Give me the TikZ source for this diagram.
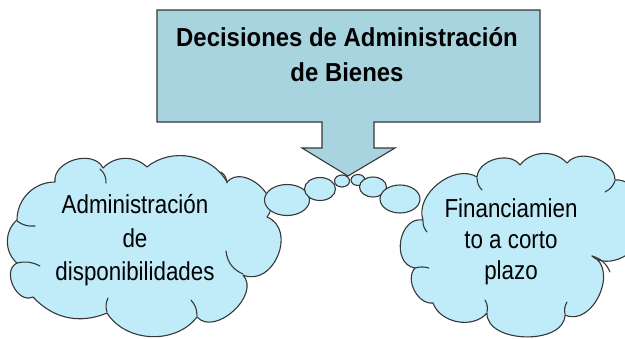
\documentclass[tikz,border=0pt]{standalone}
\usepackage{fontspec}
\setmainfont{Liberation Sans}
\newfontfamily\narrowfont{Liberation Sans}[FakeStretch=0.86]
\newfontfamily\titlefont{Liberation Sans Bold}[FakeStretch=0.92]
\usetikzlibrary{shapes.geometric}
\definecolor{boxfill}{RGB}{168,212,224}
\definecolor{cloudfill}{RGB}{192,236,250}
\definecolor{edge}{RGB}{55,55,55}
\tikzset{
  cloudline/.style={draw=edge, line width=1.1pt, fill=cloudfill, line join=round},
  innerarc/.style={draw=edge, line width=1.1pt, line cap=round},
  bubble/.style={ellipse, draw=edge, line width=1.1pt, fill=cloudfill, inner sep=0pt},
  cloudtext/.style={align=center, font=\narrowfont\fontsize{26}{33.5}\selectfont, text=black, inner sep=0pt},
  righttext/.style={align=center, font=\narrowfont\fontsize{26}{31}\selectfont, text=black, inner sep=0pt},
  titletext/.style={align=center, font=\titlefont\fontsize{26}{35}\selectfont, text=black, inner sep=0pt},
  callout/.style={draw=edge, line width=1.1pt, fill=boxfill, line join=miter}
}
\begin{document}
\begin{tikzpicture}[x=1pt,y=-1pt]
\useasboundingbox (0,0) rectangle (625,338);
% left cloud
\path[cloudline] (17,220) to[bend left=45] (55,182) to[bend left=80, looseness=1.1] (103,168)
  to[bend left=45] (147,167) to[bend left=50] (227,182) to[bend left=90, looseness=1.2] (267,217)
  to[bend left=90, looseness=1.35] (243,275) to[bend left=90, looseness=1.1] (197,317)
  to[bend left=55] (107,313) to[bend left=35] (33,297) to[bend left=90, looseness=1.2] (17,263)
  to[bend left=50] (17,220) -- cycle;
\draw[innerarc] (100,169) to[bend left=25] (106,183);
\draw[innerarc] (227,183) to[bend right=25] (221,172);
\draw[innerarc] (243,274) to[bend left=30] (226,251);
\draw[innerarc] (197,316) to[bend right=20] (191,300);
\draw[innerarc] (107,312) to[bend left=20] (108,298);
\draw[innerarc] (17,263) to[bend left=20] (40,266);
\draw[innerarc] (17,221) to[bend right=20] (35,226);
% right cloud
\path[cloudline] (423,220) to[bend left=70] (477,177) to[bend left=70] (520,165)
  to[bend left=50] (567,163) to[bend left=70] (615,180) to[bend left=70] (640,232)
  to[bend left=70] (592,256) to[bend left=90, looseness=1.2] (565,315)
  to[bend left=90] (487,313) to[bend left=60] (433,303) to[bend left=70] (415,268)
  to[bend left=90, looseness=1.3] (423,220) -- cycle;
\draw[innerarc] (415,268) to[bend left=15] (429,268);
\draw[innerarc] (592,256) to[bend left=25] (610,272);
\draw[innerarc] (565,314) to[bend left=20] (567,302);
\draw[innerarc] (487,312) to[bend right=20] (485,300);
\draw[innerarc] (423,221) to[bend right=20] (427,232);
\draw[innerarc] (477,178) to[bend right=20] (482,190);
\draw[innerarc] (615,181) to[bend left=20] (605,192);
% thought bubbles
\node[bubble, minimum width=45pt, minimum height=31pt] (b1) at (287,200) {};
\node[bubble, minimum width=31pt, minimum height=23pt] (b2) at (320,189) {};
\node[bubble, minimum width=15pt, minimum height=12pt] (b3) at (342,181) {};
\node[bubble, minimum width=14pt, minimum height=11pt] (b4) at (358,180) {};
\node[bubble, minimum width=27pt, minimum height=20pt] (b5) at (373,187) {};
\node[bubble, minimum width=40pt, minimum height=28pt] (b6) at (400,199) {};
% callout
\draw[callout] (157,10) -- (540,10) -- (540,122) -- (374,122) -- (374,148) -- (395,148)
  -- (348,176) -- (302,148) -- (322,148) -- (322,122) -- (157,122) -- cycle;
\node[titletext] (title) at (347,55) {Decisiones de Administración\\de Bienes};
% texts
\node[cloudtext] (lt) at (135,240.5) {Administración\\de\\disponibilidades};
\node[righttext] (rt) at (511,242) {Financiamien\\to a corto\\plazo};
\end{tikzpicture}
\end{document}
